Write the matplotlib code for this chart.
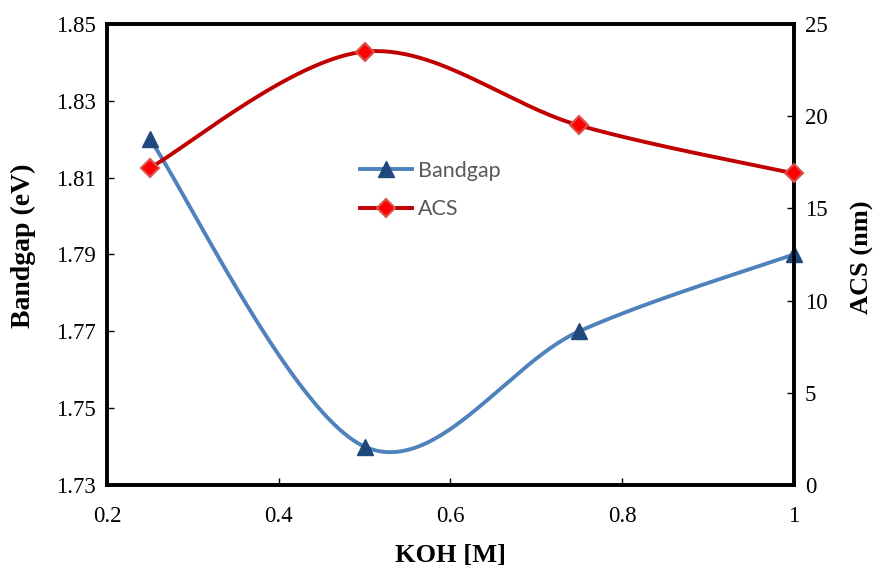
import numpy as np
import matplotlib
matplotlib.use('Agg')
import matplotlib.pyplot as plt
from matplotlib.lines import Line2D

plt.rcParams['font.family'] = 'Liberation Serif'

koh = [0.25, 0.5, 0.75, 1.0]
bandgap = [1.82, 1.74, 1.77, 1.79]
acs = [17.2, 23.5, 19.5, 16.9]


def smooth(ax, xs, ys, n=60):
    # excel-like smoothed line: bezier through the points, built in display space
    pts = ax.transData.transform(np.column_stack([xs, ys]))
    p = np.vstack([pts[0], pts, pts[-1]])
    out = []
    for i in range(1, len(p) - 2):
        p0, p1, p2, p3 = p[i - 1], p[i], p[i + 1], p[i + 2]
        c1 = p1 + (p2 - p0) / 6
        c2 = p2 - (p3 - p1) / 6
        t = np.linspace(0, 1, n)[:, None]
        seg = (1 - t) ** 3 * p1 + 3 * (1 - t) ** 2 * t * c1 + 3 * (1 - t) * t ** 2 * c2 + t ** 3 * p2
        out.append(seg)
    out = np.vstack(out)
    d = ax.transData.inverted().transform(out)
    return d[:, 0], d[:, 1]


fig = plt.figure(figsize=(8.77, 5.67), dpi=100)
ax = fig.add_axes([0.122, 0.1446, 0.783, 0.8131])
ax2 = ax.twinx()

ax.set_xlim(0.2, 1.0)
ax.set_ylim(1.73, 1.85)
ax2.set_ylim(0, 25)
ax.set_xticks([0.2, 0.4, 0.6, 0.8, 1.0])
ax.set_xticklabels(['0.2', '0.4', '0.6', '0.8', '1'])
yt = np.arange(1.73, 1.851, 0.02)
ax.set_yticks(yt)
ax.set_yticklabels(['%.2f' % v for v in yt])
ax2.set_yticks([0, 5, 10, 15, 20, 25])

blue_line = '#4F81BD'
blue_mk = '#1F497D'
red_line = '#C00000'

sx, sy = smooth(ax, koh, bandgap)
ax.plot(sx, sy, color=blue_line, lw=2.8, solid_capstyle='round', zorder=3)
ax.plot(koh, bandgap, ls='none', marker='^', ms=12, color=blue_mk, clip_on=False, zorder=4)

sx2, sy2 = smooth(ax2, koh, acs)
ax2.plot(sx2, sy2, color=red_line, lw=2.8, solid_capstyle='round', zorder=3)
ax2.plot(koh, acs, ls='none', marker='D', ms=9, mfc='#FF0000', mec='#D9534F', mew=1.5,
         clip_on=False, zorder=4)

for a in (ax, ax2):
    for s in a.spines.values():
        s.set_linewidth(2.6)
    a.tick_params(direction='in', length=5, width=1, labelsize=16.5, pad=8)
ax.tick_params(axis='x', pad=15)

ax.set_xlabel('KOH [M]', fontsize=19, fontweight='bold')
ax.set_ylabel('Bandgap (eV)', fontsize=20, fontweight='bold')
ax2.set_ylabel('ACS (nm)', fontsize=19, fontweight='bold')
ax.xaxis.set_label_coords(0.5, -0.152)
ax.xaxis.label.set_va('center')
ax.yaxis.set_label_coords(-0.122, 0.52)
ax.yaxis.label.set_va('center')
ax2.yaxis.set_label_coords(1.1, 0.495)
ax2.yaxis.label.set_va('center')

h1 = Line2D([], [], color=blue_line, lw=2.8, marker='^', ms=12, mfc=blue_mk, mec=blue_mk)
h2 = Line2D([], [], color=red_line, lw=2.8, marker='D', ms=9, mfc='#FF0000', mec='#D9534F', mew=1.5)
leg = ax.legend([h1, h2], ['Bandgap', 'ACS'], loc='upper left', bbox_to_anchor=(0.34, 0.745),
                frameon=False, handlelength=2.4, handletextpad=0.3, labelspacing=0.85,
                prop={'family': 'Lato', 'size': 15.5})
for t in leg.get_texts():
    t.set_color('#595959')

fig.savefig('out.png', dpi=100)
